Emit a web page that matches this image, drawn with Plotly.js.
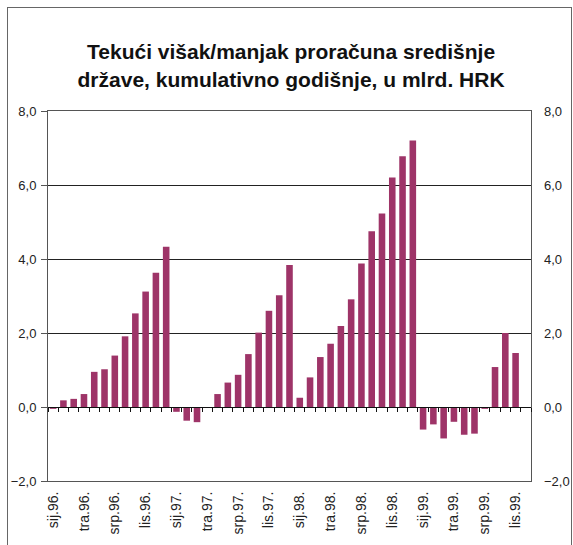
<!DOCTYPE html>
<html>
<head>
<meta charset="utf-8">
<script src="https://cdn.plot.ly/plotly-3.0.1.min.js"></script>
<style>
  html, body { margin: 0; padding: 0; background: #fff; }
  #wrap { position: relative; width: 573px; height: 545px; overflow: hidden; }
  #chart { position: absolute; left: 0; top: 0; width: 573px; height: 545px; }
  #frame { position: absolute; left: 7px; top: 7px; width: 563px; height: 560px; border: 1px solid #666; pointer-events: none; }
</style>
</head>
<body>
<div id="wrap"><div id="chart"></div><div id="frame"></div></div>
<script>
const months = ['sij', 'velj', 'ožu', 'tra', 'svi', 'lip', 'srp', 'kol', 'ruj', 'lis', 'stu', 'pro'];
const years = ['96', '97', '98', '99'];
const categories = [];
years.forEach(y => months.forEach(m => categories.push(m + '.' + y + '.')));
categories.length = 47; // sij.96. .. stu.99.

const values1996 = [-0.05, 0.18, 0.22, 0.35, 0.95, 1.02, 1.39, 1.91, 2.53, 3.12, 3.63, 4.33];
const values1997 = [-0.13, -0.37, -0.41, 0.0, 0.35, 0.66, 0.87, 1.43, 2.01, 2.60, 3.02, 3.84];
const values1998 = [0.25, 0.80, 1.35, 1.71, 2.19, 2.91, 3.88, 4.75, 5.23, 6.20, 6.78, 7.20];
const values1999 = [-0.61, -0.47, -0.85, -0.40, -0.75, -0.72, -0.05, 1.08, 2.00, 1.46, null];
const values = values1996.concat(values1997, values1998, values1999);

const tickLabels = ['sij.96.', 'tra.96.', 'srp.96.', 'lis.96.', 'sij.97.', 'tra.97.', 'srp.97.', 'lis.97.',
                    'sij.98.', 'tra.98.', 'srp.98.', 'lis.98.', 'sij.99.', 'tra.99.', 'srp.99.', 'lis.99.'];
const titleText = 'Tekući višak/manjak proračuna središnje<br>države, kumulativno godišnje, u mlrd. HRK';

const nulls = categories.map(() => null);
const FONT = 'Liberation Sans, Arial, sans-serif';

const traces = [
  { type: 'bar', x: categories, y: values, xaxis: 'x', yaxis: 'y',
    marker: { color: '#9E3468', line: { width: 0 } }, hoverinfo: 'x+y', showlegend: false },
  { type: 'scatter', mode: 'markers', x: categories, y: nulls, xaxis: 'x', yaxis: 'y2',
    showlegend: false, hoverinfo: 'skip' },
  { type: 'scatter', mode: 'markers', x: categories, y: nulls, xaxis: 'x2', yaxis: 'y',
    showlegend: false, hoverinfo: 'skip' }
];

const n = categories.length;
const layout = {
  width: 573, height: 545,
  margin: { l: 48, r: 42, t: 111, b: 64, pad: 0 },
  paper_bgcolor: 'rgba(0,0,0,0)', plot_bgcolor: '#fff',
  separators: ',.',
  font: { family: FONT, size: 12, color: '#222' },
  title: { text: titleText, x: 0.508, xanchor: 'center', y: 0.891, yanchor: 'middle',
           font: { family: FONT, size: 21, color: '#111', weight: 'bold' } },
  bargap: 0.36,
  xaxis: {
    type: 'category', categoryorder: 'array', categoryarray: categories,
    range: [-0.5, n - 0.5], tickmode: 'array', tickvals: tickLabels, ticktext: tickLabels,
    tickangle: -90, ticks: '', showgrid: false, zeroline: false,
    showline: true, linecolor: '#555', linewidth: 1, mirror: true,
    tickfont: { family: FONT, size: 14, color: '#222' }, ticklabelstandoff: 4
  },
  xaxis2: {
    type: 'category', categoryorder: 'array', categoryarray: categories,
    overlaying: 'x', anchor: 'free', position: 0.2, side: 'bottom',
    range: [-0.5, n - 0.5], tickmode: 'linear', tick0: 0, dtick: 1,
    tickson: 'boundaries', ticks: 'outside', ticklen: 4, tickcolor: '#111', tickwidth: 1,
    showticklabels: false, showgrid: false, zeroline: false,
    showline: true, linecolor: '#111', linewidth: 1
  },
  yaxis: {
    range: [-2, 8], tickmode: 'linear', tick0: -2, dtick: 2, tickformat: '.1f',
    showgrid: true, gridcolor: '#222', gridwidth: 1,
    zeroline: false, showline: true, linecolor: '#555', linewidth: 1, mirror: true,
    ticks: 'outside', ticklen: 6, tickcolor: '#555',
    tickfont: { family: FONT, size: 13, color: '#222' }, ticklabelstandoff: 2
  },
  yaxis2: {
    overlaying: 'y', side: 'right', anchor: 'x',
    range: [-2, 8], tickmode: 'linear', tick0: -2, dtick: 2, tickformat: '.1f',
    showgrid: false, zeroline: false, showline: false, ticks: '',
    tickfont: { family: FONT, size: 13, color: '#222' }, ticklabelstandoff: 12
  }
};

Plotly.newPlot('chart', traces, layout, { displayModeBar: false, staticPlot: true });
</script>
</body>
</html>
